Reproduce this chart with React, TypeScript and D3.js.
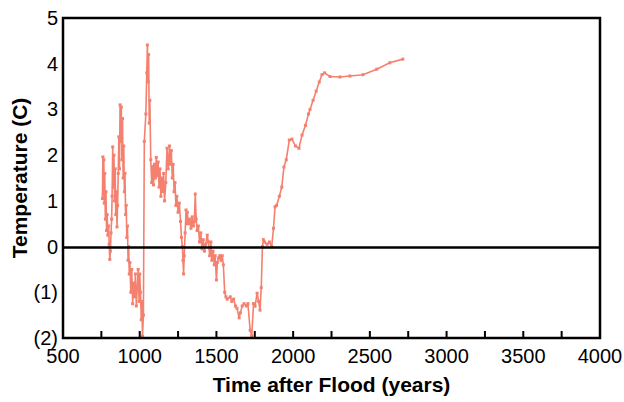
import React, { useEffect, useRef } from "react";
import * as d3 from "d3";

// years after flood
const years = [
  757, 760, 763, 766, 769, 772, 776, 780, 784, 788, 792, 797, 801, 805, 809, 813, 817,
  820, 824, 828, 832, 836, 840, 844, 848, 852, 856,
  860, 864, 868, 872, 876, 880, 884, 888, 892, 896, 900, 904, 908, 912, 916, 920, 924, 928, 932, 936,
  942, 948, 954, 960, 966, 972, 978, 984, 990, 996, 1000, 1005, 1010, 1014, 1018,
  1024, 1030, 1040, 1046, 1050, 1054, 1058, 1062, 1066,
  1072, 1078, 1084, 1090, 1096, 1102, 1108, 1114, 1120, 1126, 1132, 1138, 1144, 1150, 1156, 1162,
  1170, 1178, 1186, 1194, 1200, 1206, 1212, 1218, 1224, 1230, 1236, 1242, 1250, 1258,
  1266, 1272, 1278, 1282, 1286, 1290, 1296, 1302, 1306, 1310,
  1318, 1326, 1334, 1342, 1350, 1356, 1362, 1368, 1374,
  1382, 1390, 1398, 1406, 1414, 1422, 1430,
  1440, 1448, 1456, 1464, 1470, 1478, 1486, 1492,
  1500, 1506, 1514, 1522, 1530, 1538, 1545,
  1554, 1562, 1570, 1590, 1600, 1612, 1624, 1634,
  1648, 1656, 1668, 1680, 1695, 1705, 1720, 1730, 1742, 1752, 1765, 1775, 1784, 1792,
  1800, 1806, 1814, 1830, 1845, 1860, 1872, 1882, 1892, 1910, 1926, 1940, 1955,
  1975, 1992, 2015, 2038, 2058, 2080, 2100, 2110, 2130, 2150, 2170, 2188, 2205,
  2240, 2305, 2370, 2455, 2545, 2630, 2715,
];

// temperature anomaly (C)
const temps = [
  1.05, 1.96, 1.15, 1.9, 0.95, 1.6, 0.6, 1.2, 0.35, 0.7, 0.25, 0.45, 0.05, -0.28, -0.1, 0.3, 0.6,
  1.1, 2.18, 1.3, 2.0, 1.0, 1.7, 0.7, 1.2, 0.43, 0.9,
  1.6, 2.4, 1.7, 3.1, 2.3, 3.05, 1.9, 2.8, 1.5, 2.2, 1.2, 1.6, 0.7, 0.9, 0.2, 0.45, -0.3, 0.0, -0.6, -0.35,
  -1.0, -0.5, -1.25, -0.8, -1.1, -0.6, -1.3, -0.9, -0.5, -1.2, -0.6, -1.0, -1.6, -1.2, -1.96,
  -1.5, 2.3, 2.9, 3.8, 4.41, 3.6, 4.2, 2.7, 3.2,
  1.9, 1.4, 1.75, 1.35, 1.8, 1.5, 1.95, 1.55, 1.85, 1.3, 1.7, 1.1, 1.5, 1.2, 1.6, 1.0,
  1.4, 2.15, 1.7, 2.2, 1.8, 2.1, 1.5, 1.8, 1.2, 1.4, 0.9, 1.1, 0.75, 0.95,
  0.55, 0.2, 0.0, -0.3, -0.6, -0.2, 0.3, 0.8, 0.5, 0.75,
  0.5, 0.6, 0.4, 0.65, 0.45, 0.55, 1.15, 0.6, 0.35,
  0.45, 0.1, 0.3, -0.05, 0.15, -0.1, 0.05,
  0.25, 0.1, -0.2, 0.1, -0.3, -0.1, -0.4, -0.2,
  -0.73, -0.35, -0.25, -0.2, -0.3, -0.2, -0.4,
  -1.0, -1.1, -1.15, -1.1, -1.2, -1.15, -1.3, -1.35,
  -1.56, -1.45, -1.3, -1.25, -1.3, -1.25, -1.83, -1.95, -1.25, -1.3, -1.02, -1.2, -1.39, -0.9,
  0.0, 0.15, 0.1, 0.05, 0.1, 0.0, 0.4, 0.87, 0.9, 1.1, 1.3, 1.74, 1.9,
  2.33, 2.35, 2.2, 2.15, 2.44, 2.65, 2.9, 3.0, 3.2, 3.4, 3.6, 3.76, 3.8,
  3.72, 3.71, 3.73, 3.76, 3.88, 4.02, 4.1,
];

const xTicks = [500, 1000, 1500, 2000, 2500, 3000, 3500, 4000];
const xMinorTicks = [750, 1250, 1750, 2250, 2750, 3250, 3750];
const yTicks = [-2, -1, 0, 1, 2, 3, 4, 5];

const App = () => {
  const svgRef = useRef(null);

  useEffect(() => {
    const width = 624;
    const height = 402;
    const margin = { top: 18, right: 24, bottom: 64, left: 63 };
    const font = "'Liberation Sans', Arial, sans-serif";
    const color = "#F4806F";

    d3.select(svgRef.current).selectAll("*").remove();

    const svg = d3
      .select(svgRef.current)
      .attr("width", width)
      .attr("height", height);

    const x = d3
      .scaleLinear()
      .domain([500, 4000])
      .range([margin.left, width - margin.right]);

    const y = d3
      .scaleLinear()
      .domain([-2, 5])
      .range([height - margin.bottom, margin.top]);

    const data = years.map((yr, i) => ({ yr, t: temps[i] }));

    // data line
    svg
      .append("path")
      .datum(data)
      .attr("fill", "none")
      .attr("stroke", color)
      .attr("stroke-width", 1.6)
      .attr(
        "d",
        d3
          .line()
          .x((d) => x(d.yr))
          .y((d) => y(d.t))
      );

    // small square markers
    svg
      .selectAll(".pt")
      .data(data)
      .enter()
      .append("rect")
      .attr("x", (d) => x(d.yr) - 1.5)
      .attr("y", (d) => y(d.t) - 1.5)
      .attr("width", 3)
      .attr("height", 3)
      .attr("fill", color);

    // zero line
    svg
      .append("line")
      .attr("x1", x(500))
      .attr("x2", x(4000))
      .attr("y1", y(0) + 1)
      .attr("y2", y(0) + 1)
      .attr("stroke", "#000")
      .attr("stroke-width", 2.5);

    // frame
    svg
      .append("rect")
      .attr("x", x(500))
      .attr("y", y(5))
      .attr("width", x(4000) - x(500))
      .attr("height", y(-2) - y(5))
      .attr("fill", "none")
      .attr("stroke", "#000")
      .attr("stroke-width", 2.5);

    // x ticks (inward)
    const bottom = y(-2);
    svg
      .selectAll(".xt")
      .data(xTicks.concat(xMinorTicks))
      .enter()
      .append("line")
      .attr("x1", (d) => x(d))
      .attr("x2", (d) => x(d))
      .attr("y1", bottom)
      .attr("y2", bottom - 7)
      .attr("stroke", "#000")
      .attr("stroke-width", 2);

    svg
      .selectAll(".xl")
      .data(xTicks)
      .enter()
      .append("text")
      .attr("x", (d) => x(d))
      .attr("y", 363)
      .attr("text-anchor", "middle")
      .attr("font-family", font)
      .attr("font-size", 20)
      .attr("fill", "#000")
      .text((d) => d);

    svg
      .selectAll(".yl")
      .data(yTicks)
      .enter()
      .append("text")
      .attr("x", 58)
      .attr("y", (d) => y(d))
      .attr("dy", "0.35em")
      .attr("text-anchor", "end")
      .attr("font-family", font)
      .attr("font-size", 20)
      .attr("fill", "#000")
      .text((d) => (d < 0 ? `(${-d})` : d));

    // axis titles
    svg
      .append("text")
      .attr("x", (x(500) + x(4000)) / 2)
      .attr("y", 392)
      .attr("text-anchor", "middle")
      .attr("font-family", font)
      .attr("font-size", 21)
      .attr("font-weight", "bold")
      .attr("fill", "#000")
      .text("Time after Flood (years)");

    svg
      .append("text")
      .attr("transform", `translate(27,${(y(5) + y(-2)) / 2}) rotate(-90)`)
      .attr("text-anchor", "middle")
      .attr("font-family", font)
      .attr("font-size", 21)
      .attr("font-weight", "bold")
      .attr("fill", "#000")
      .text("Temperature (C)");
  }, []);

  return (
    <svg
      ref={svgRef}
      style={{ position: "absolute", left: 0, top: 0, display: "block" }}
    ></svg>
  );
};

export default App;
